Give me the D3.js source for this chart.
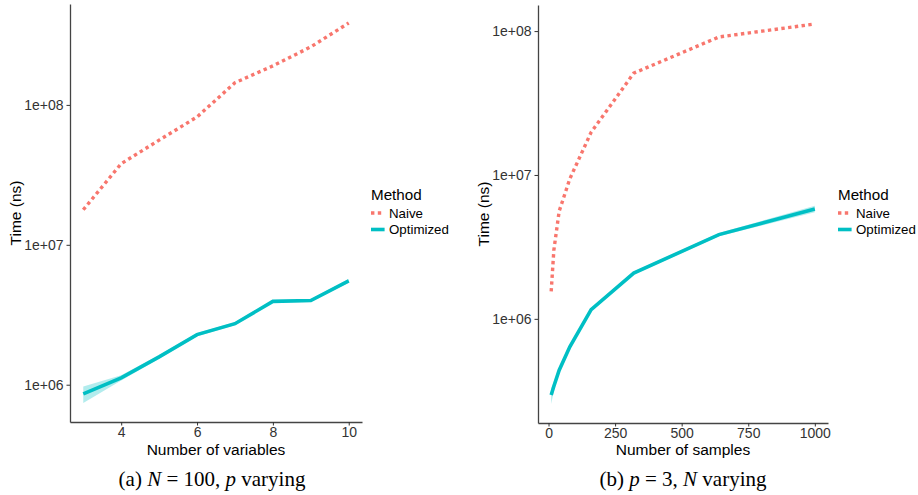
<!DOCTYPE html>
<html>
<head>
<meta charset="utf-8">
<script src="https://cdn.jsdelivr.net/npm/d3@7"></script>
<style>
  body { margin: 0; background: #fff; }
  svg { display: block; font-family: "Liberation Sans", Arial, sans-serif; }
  .tick text { fill: #333; font-size: 14px; }
  .tick line { stroke: #333; }
  .domain { stroke: #444; stroke-width: 1.3px; }
</style>
</head>
<body>
<svg width="918" height="495"></svg>
<script>
// panel (a): N = 100, p varying
var numVars = [3, 4, 5, 6, 7, 8, 9, 10];
var naiveVars = [1.78e7, 3.8e7, 5.6e7, 8.2e7, 1.44e8, 1.9e8, 2.6e8, 3.85e8];
var optVars = [8.6e5, 1.12e6, 1.58e6, 2.28e6, 2.73e6, 3.94e6, 4.0e6, 5.53e6];
var optVarsLo = [7.4e5, 1.07e6, 1.53e6, 2.22e6, 2.66e6, 3.85e6, 3.9e6, 5.35e6];
var optVarsHi = [9.7e5, 1.17e6, 1.63e6, 2.34e6, 2.80e6, 4.03e6, 4.1e6, 5.7e6];

// panel (b): p = 3, N varying
var numSamples = [10, 20, 40, 80, 160, 320, 640, 1000];
var naiveSamples = [1.55e6, 3.0e6, 5.6e6, 9.4e6, 1.98e7, 5.1e7, 9.1e7, 1.12e8];
var optSamples = [2.96e5, 3.4e5, 4.4e5, 6.4e5, 1.16e6, 2.08e6, 3.85e6, 5.8e6];
var optSamplesLo = [2.56e5, 3.15e5, 4.25e5, 6.2e5, 1.13e6, 2.03e6, 3.75e6, 5.5e6];
var optSamplesHi = [3.3e5, 3.6e5, 4.55e5, 6.6e5, 1.19e6, 2.13e6, 3.95e6, 6.1e6];

var xTicksVars = [4, 6, 8, 10];
var xTicksSamples = [0, 250, 500, 750, 1000];
var yTicks = [1e6, 1e7, 1e8];

var colorNaive = "#F8766D";
var colorOpt = "#00BFC4";

var svg = d3.select("svg");

function expand(lo, hi) {
    // ggplot style 5% expansion
    var pad = (hi - lo) * 0.05;
    return [lo - pad, hi + pad];
}

function sci(d) {
    var e = Math.round(Math.log10(d));
    return "1e+" + (e < 10 ? "0" + e : e);
}

function drawPanel(p) {
    var g = svg.append("g");

    var xDom = expand(d3.min(p.x), d3.max(p.x));
    var xScale = d3.scaleLinear().domain(xDom).range([p.left, p.right]);

    var allY = p.naive.concat(p.opt, p.lo, p.hi).map(Math.log10);
    var yDom = expand(d3.min(allY), d3.max(allY)).map(v => Math.pow(10, v));
    var yScale = d3.scaleLog().domain(yDom).range([p.bottom, p.top]);

    var rows = p.x.map((x, i) => ({ x: x, naive: p.naive[i], opt: p.opt[i], lo: p.lo[i], hi: p.hi[i] }));

    g.append("path")
        .datum(rows)
        .attr("fill", colorOpt)
        .attr("fill-opacity", 0.3)
        .attr("d", d3.area().x(d => xScale(d.x)).y0(d => yScale(d.lo)).y1(d => yScale(d.hi)));

    g.append("path")
        .datum(rows)
        .attr("fill", "none")
        .attr("stroke", colorOpt)
        .attr("stroke-width", 3.6)
        .attr("d", d3.line().x(d => xScale(d.x)).y(d => yScale(d.opt)));

    g.append("path")
        .datum(rows)
        .attr("fill", "none")
        .attr("stroke", colorNaive)
        .attr("stroke-width", 3.4)
        .attr("stroke-dasharray", "3.4,3.4")
        .attr("d", d3.line().x(d => xScale(d.x)).y(d => yScale(d.naive)));

    g.append("g")
        .attr("transform", `translate(0,${p.bottom})`)
        .call(d3.axisBottom(xScale).tickValues(p.xTicks).tickFormat(d3.format("d"))
            .tickSize(3.5).tickPadding(2).tickSizeOuter(0));

    g.append("g")
        .attr("transform", `translate(${p.left},0)`)
        .call(d3.axisLeft(yScale).tickValues(yTicks).tickFormat(sci).tickSize(3.5).tickPadding(3).tickSizeOuter(0));

    var midX = (p.left + p.right) / 2;
    var midY = (p.top + p.bottom) / 2;

    g.append("text")
        .attr("x", midX)
        .attr("y", 455)
        .attr("text-anchor", "middle")
        .style("font-size", "15.5px")
        .text(p.xTitle);

    g.append("text")
        .attr("transform", `translate(${p.left - 49},${midY}) rotate(-90)`)
        .attr("text-anchor", "middle")
        .style("font-size", "15.5px")
        .text("Time (ns)");

    // legend
    var lg = g.append("g").attr("transform", `translate(${p.legendX},0)`);
    lg.append("text").attr("x", 0).attr("y", 200).style("font-size", "15.2px").text("Method");
    lg.append("line")
        .attr("x1", 0).attr("x2", 13.6).attr("y1", 213).attr("y2", 213)
        .attr("stroke", colorNaive).attr("stroke-width", 3.4).attr("stroke-dasharray", "3.4,3.4");
    lg.append("text").attr("x", 18).attr("y", 217.5).style("font-size", "13.3px").text("Naive");
    lg.append("line")
        .attr("x1", 0).attr("x2", 13.6).attr("y1", 229.5).attr("y2", 229.5)
        .attr("stroke", colorOpt).attr("stroke-width", 3.6);
    lg.append("text").attr("x", 18).attr("y", 234).style("font-size", "13.3px").text("Optimized");

    // caption
    var cap = g.append("text")
        .attr("x", p.captionX)
        .attr("y", 486)
        .attr("text-anchor", "middle")
        .style("font-family", "'Liberation Serif', 'Times New Roman', serif")
        .style("font-size", "21px");
    p.caption.forEach(part => {
        cap.append("tspan")
            .style("font-style", part[1] ? "italic" : "normal")
            .text(part[0]);
    });
}

drawPanel({
    x: numVars, naive: naiveVars, opt: optVars, lo: optVarsLo, hi: optVarsHi,
    xTicks: xTicksVars, xTitle: "Number of variables",
    left: 70, right: 362, top: 4, bottom: 422,
    legendX: 371,
    captionX: 212,
    caption: [["(a) ", false], ["N", true], ["\u2005=\u2005100, ", false], ["p", true], [" varying", false]]
});

drawPanel({
    x: numSamples, naive: naiveSamples, opt: optSamples, lo: optSamplesLo, hi: optSamplesHi,
    xTicks: xTicksSamples, xTitle: "Number of samples",
    left: 538, right: 828, top: 5, bottom: 423,
    legendX: 838,
    captionX: 683,
    caption: [["(b) ", false], ["p", true], ["\u2005=\u20053, ", false], ["N", true], [" varying", false]]
});
</script>
</body>
</html>
